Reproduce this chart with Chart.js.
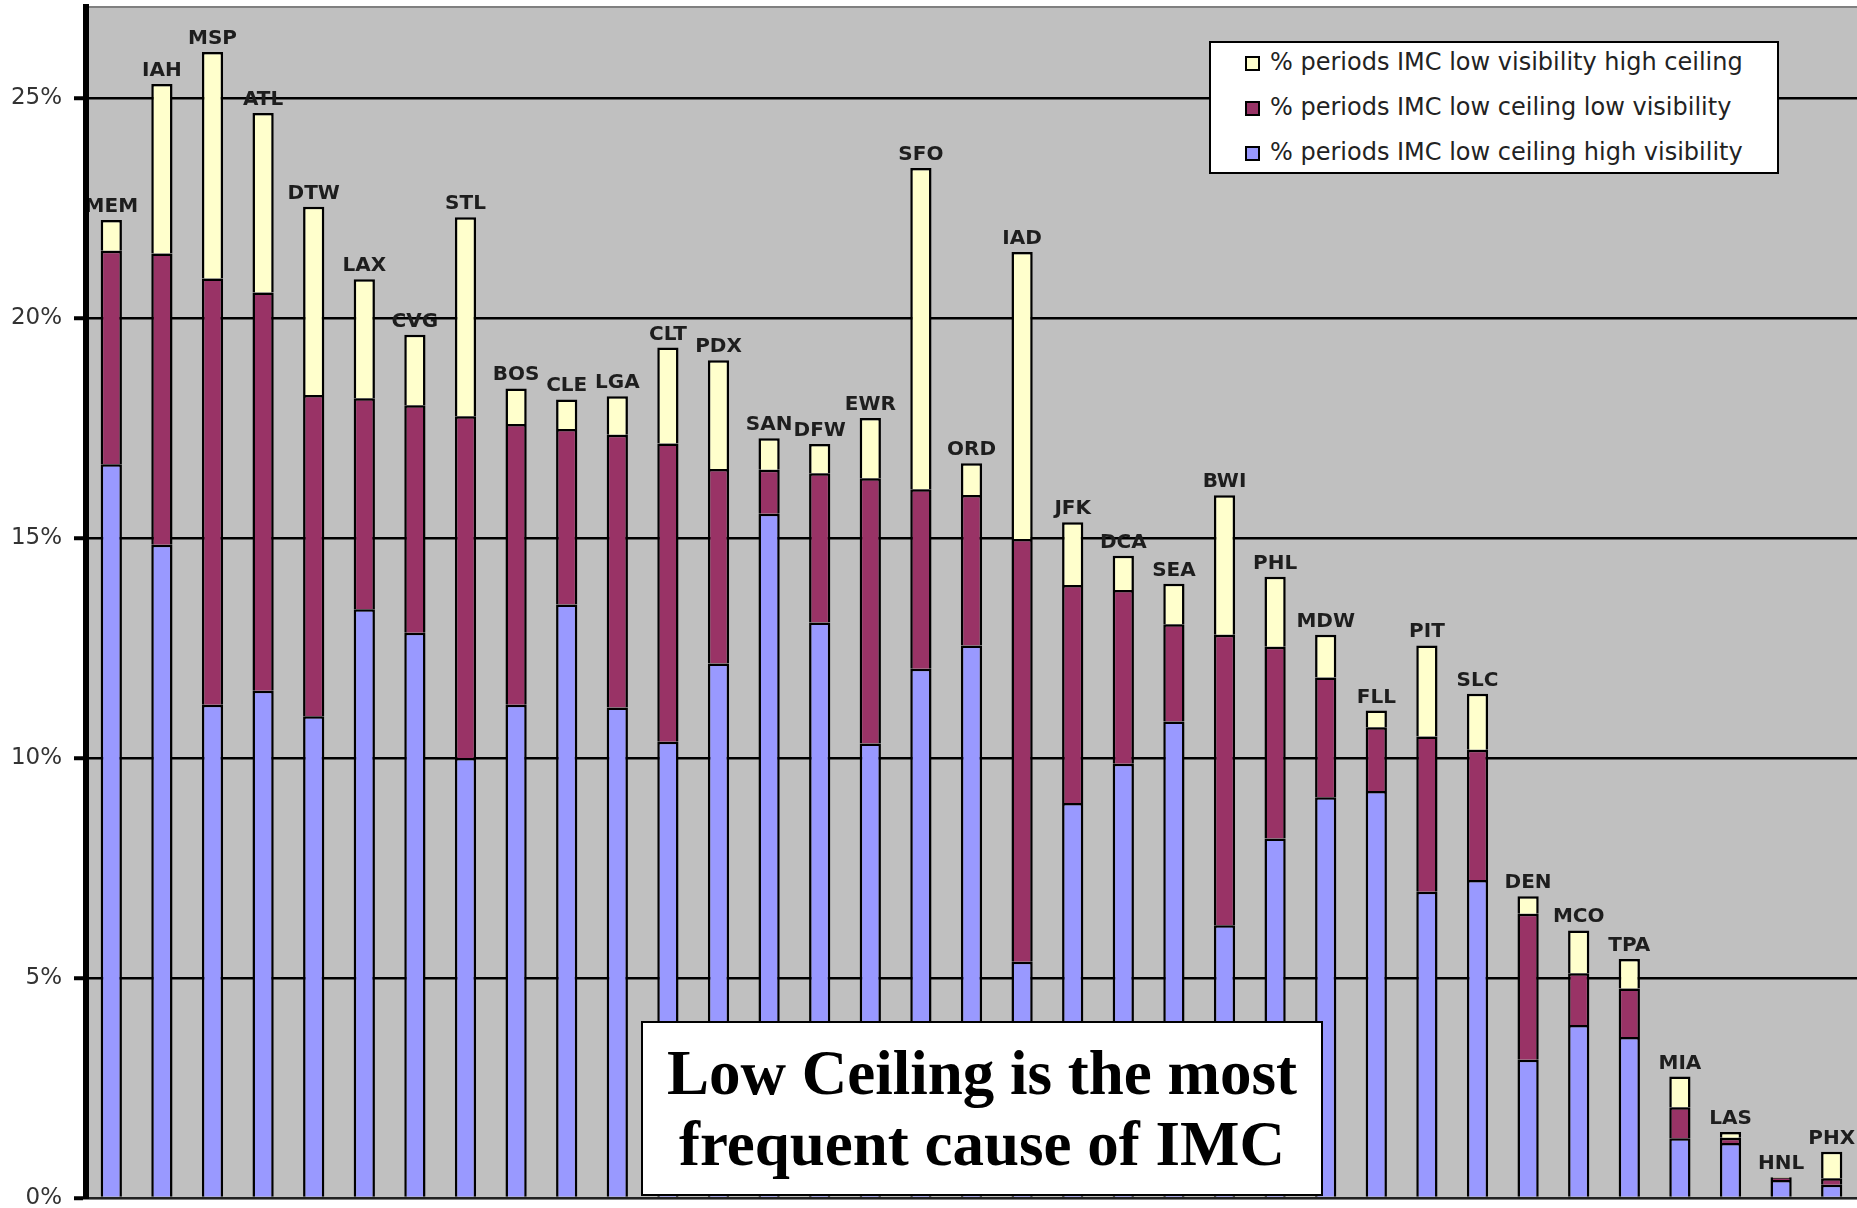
<!DOCTYPE html>
<html>
<head>
<meta charset="utf-8">
<title>IMC periods by airport</title>
<script src="https://cdn.jsdelivr.net/npm/chart.js@4.4.0/dist/chart.umd.min.js"></script>
<style>
html, body { margin: 0; padding: 0; background: #fff; }
#wrap { position: relative; width: 1857px; height: 1208px; overflow: hidden; }
#legend {
    position: absolute; left: 1209px; top: 41px; width: 570px; height: 133px;
    box-sizing: border-box; border: 2px solid #000; background: #fff;
    font-family: "DejaVu Sans"; font-size: 24px; color: #222;
}
.item { position: absolute; left: 34px; height: 28px; line-height: 28px; white-space: nowrap; }
.sw { display: inline-block; width: 11px; height: 11px; border: 2px solid #000; margin-right: 10px; vertical-align: -1px; }
#note {
    position: absolute; left: 641px; top: 1021px; width: 682px; height: 175px;
    box-sizing: border-box; border: 2px solid #000; background: #fff;
    padding-top: 15px; text-align: center;
    font-family: "Liberation Serif"; font-weight: bold; font-size: 63px; line-height: 71px; color: #000;
}
</style>
</head>
<body>
<div id="wrap">
    <canvas id="imc" width="1857" height="1208"></canvas>
    <div id="legend"></div>
    <div id="note">Low Ceiling is the most<br>frequent cause of IMC</div>
</div>
<script>
const airports = ['MEM','IAH','MSP','ATL','DTW','LAX','CVG','STL','BOS','CLE','LGA','CLT','PDX','SAN','DFW','EWR','SFO','ORD',
    'IAD','JFK','DCA','SEA','BWI','PHL','MDW','FLL','PIT','SLC','DEN','MCO','TPA','MIA','LAS','HNL','PHX'];

// % of periods
const lowCeilHighVis = [16.68, 14.85, 11.21, 11.53, 10.95, 13.38, 12.85, 10.0, 11.21, 13.49, 11.15, 10.37, 12.15, 15.55, 13.08, 10.33,
    12.03, 12.56, 5.37, 8.98, 9.87, 10.83, 6.2, 8.17, 9.11, 9.25, 6.96, 7.23, 3.14, 3.93, 3.66, 1.36, 1.25, 0.41, 0.3];
const lowCeilLowVis = [4.85, 6.62, 9.69, 9.05, 7.3, 4.8, 5.17, 7.77, 6.38, 3.99, 6.2, 6.78, 4.42, 1.0, 3.39, 6.03,
    4.08, 3.42, 9.61, 4.95, 3.95, 2.21, 6.6, 4.36, 2.72, 1.45, 3.53, 2.96, 3.32, 1.18, 1.1, 0.7, 0.12, 0.05, 0.15];
const lowVisHighCeil = [0.7, 3.85, 5.15, 4.08, 4.28, 2.7, 1.6, 4.52, 0.81, 0.67, 0.87, 2.18, 2.47, 0.72, 0.67, 1.37,
    7.3, 0.72, 6.52, 1.43, 0.78, 0.92, 3.17, 1.59, 0.97, 0.38, 2.07, 1.27, 0.4, 0.97, 0.67, 0.7, 0.13, 0.02, 0.6];

const yTicks = [0, 5, 10, 15, 20, 25];

// grey plot area + top border
const plotBack = {
    id: 'plotBack',
    beforeDraw(chart) {
        const a = chart.chartArea, ctx = chart.ctx;
        ctx.save();
        ctx.fillStyle = '#c0c0c0';
        ctx.fillRect(a.left, a.top, a.right - a.left, a.bottom - a.top);
        ctx.strokeStyle = '#808080';
        ctx.lineWidth = 2;
        ctx.beginPath();
        ctx.moveTo(a.left, a.top);
        ctx.lineTo(a.right, a.top);
        ctx.stroke();
        ctx.restore();
    }
};

// airport code over each stack
const codeLabels = {
    id: 'codeLabels',
    afterDatasetsDraw(chart) {
        const ctx = chart.ctx, a = chart.chartArea;
        const x = chart.scales.x, y = chart.scales.y;
        ctx.save();
        ctx.beginPath();
        ctx.rect(a.left + 3, 0, a.right - a.left, a.bottom);
        ctx.clip();
        ctx.font = 'bold 20px "DejaVu Sans"';
        ctx.fillStyle = '#1e1e1e';
        ctx.textAlign = 'center';
        ctx.textBaseline = 'alphabetic';
        airports.forEach(function(code, i) {
            let total = 0;
            chart.data.datasets.forEach(function(ds) { total += ds.data[i]; });
            ctx.fillText(code, x.getPixelForValue(i), y.getPixelForValue(total) - 8);
        });
        ctx.restore();
    }
};

const chart = new Chart(document.getElementById('imc'), {
    type: 'bar',
    data: {
        labels: airports,
        datasets: [
            {label: '% periods IMC low ceiling high visibility', data: lowCeilHighVis, backgroundColor: '#9999ff'},
            {label: '% periods IMC low ceiling low visibility', data: lowCeilLowVis, backgroundColor: '#993366'},
            {label: '% periods IMC low visibility high ceiling', data: lowVisHighCeil, backgroundColor: '#ffffcc'}
        ]
    },
    options: {
        responsive: false,
        animation: false,
        devicePixelRatio: 1,
        layout: {padding: {top: 7, right: 0, bottom: 0, left: 0}},
        datasets: {
            bar: {
                barPercentage: 0.42,
                categoryPercentage: 1.0,
                borderColor: '#000',
                borderWidth: 2.5
            }
        },
        plugins: {
            legend: {display: false},
            tooltip: {enabled: false}
        },
        scales: {
            x: {
                stacked: true,
                ticks: {display: false},
                grid: {display: false},
                border: {display: true, color: '#222', width: 2},
                afterFit(scale) {
                    scale.height = 10;
                    scale.paddingLeft = 0;
                    scale.paddingRight = 0;
                }
            },
            y: {
                stacked: true,
                min: 0,
                max: 27.07,
                afterBuildTicks(scale) {
                    scale.ticks = yTicks.map(function(v) { return {value: v}; });
                },
                ticks: {
                    padding: 12,
                    color: '#333',
                    font: {family: 'DejaVu Sans', size: 23},
                    callback: function(v) { return v + '%'; }
                },
                grid: {color: '#000', lineWidth: 2.5, tickLength: 12, tickWidth: 4, tickColor: '#000'},
                border: {display: true, color: '#000', width: 6},
                afterFit(scale) {
                    scale.width = 86;
                    scale.paddingTop = 0;
                    scale.paddingBottom = 0;
                }
            }
        }
    },
    plugins: [plotBack, codeLabels]
});

// legend box, top to bottom as in the stack
const legendBox = document.getElementById('legend');
chart.data.datasets.slice().reverse().forEach(function(ds, k) {
    const row = document.createElement('div');
    row.className = 'item';
    row.style.top = (5 + k * 45) + 'px';
    const sw = document.createElement('span');
    sw.className = 'sw';
    sw.style.background = ds.backgroundColor;
    row.appendChild(sw);
    row.appendChild(document.createTextNode(ds.label));
    legendBox.appendChild(row);
});
</script>
</body>
</html>
